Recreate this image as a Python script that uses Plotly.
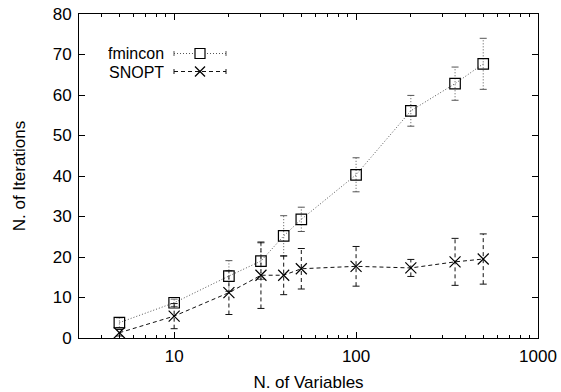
import plotly.graph_objects as go

# ---- data ----
n_vars = [5, 10, 20, 30, 40, 50, 100, 200, 350, 500]
fmincon_iter = [3.8, 8.7, 15.3, 19.0, 25.2, 29.3, 40.3, 56.1, 62.8, 67.7]
fmincon_err = [1.2, 0.9, 3.8, 4.5, 5.0, 3.0, 4.2, 3.8, 4.1, 6.3]
snopt_iter = [1.3, 5.4, 11.2, 15.5, 15.5, 17.1, 17.7, 17.3, 18.8, 19.5]
snopt_err = [0.8, 3.1, 5.4, 8.2, 4.8, 5.0, 4.9, 2.1, 5.8, 6.2]

FONT = "Liberation Sans, Arial, Helvetica, sans-serif"
FS = 17
W, H = 561, 392


def err_segments(xs, ys, es):
    ex, ey = [], []
    for x, y, e in zip(xs, ys, es):
        ex += [x, x, None]
        ey += [y - e, y + e, None]
    return ex, ey


def err_caps(xs, ys, es):
    cx, cy = [], []
    for x, y, e in zip(xs, ys, es):
        cx += [x, x]
        cy += [y - e, y + e]
    return cx, cy


fig = go.Figure()

series = [
    ("fmincon", fmincon_iter, fmincon_err, "#555555", "1px,2px", "square-open", 10.5),
    ("SNOPT", snopt_iter, snopt_err, "#111111", "4px,3px", "x-thin-open", 11),
]

for name, ys, es, col, dash, sym, msz in series:
    ex, ey = err_segments(n_vars, ys, es)
    fig.add_trace(go.Scatter(x=ex, y=ey, mode="lines", showlegend=False,
                             line=dict(color=col, width=1, dash=dash), hoverinfo="skip"))
    cx, cy = err_caps(n_vars, ys, es)
    fig.add_trace(go.Scatter(x=cx, y=cy, mode="markers", showlegend=False,
                             marker=dict(symbol="line-ew-open", size=5, color=col,
                                         line=dict(color=col, width=1)), hoverinfo="skip"))
    fig.add_trace(go.Scatter(x=n_vars, y=ys, mode="lines+markers", name=name, showlegend=False,
                             line=dict(color=col, width=1, dash=dash),
                             marker=dict(symbol=sym, size=msz, color="black",
                                         line=dict(color="black", width=1.2))))

# plot area in reference-image pixels
x0, x1 = 79, 538
y0, y1 = 14, 338
def px(v):
    return (v - x0) / (x1 - x0)
def py(v):
    return (y1 - v) / (y1 - y0)

# ---- custom gnuplot-style key (text left of sample) ----
key_rows = [("fmincon", 53.5, "#555555", "1px,2px", "square"),
            ("SNOPT", 71.5, "#111111", "4px,3px", "x")]
shapes = []
annotations = []
for label, yy, col, dash, mk in key_rows:
    annotations.append(dict(text=label, x=px(165), y=py(yy), xref="paper", yref="paper",
                            xanchor="right", yanchor="middle", showarrow=False,
                            height=16, valign="middle", borderpad=0,
                            font=dict(family=FONT, size=16, color="black")))
    shapes.append(dict(type="line", xref="paper", yref="paper", x0=px(174), x1=px(226),
                       y0=py(yy), y1=py(yy), line=dict(color=col, width=1, dash=dash)))
    for xc in (174, 226):
        shapes.append(dict(type="line", xref="paper", yref="paper", x0=px(xc), x1=px(xc),
                           y0=py(yy - 2.5), y1=py(yy + 2.5), line=dict(color=col, width=1)))
    if mk == "square":
        shapes.append(dict(type="rect", xref="paper", yref="paper", x0=px(195), x1=px(205),
                           y0=py(yy - 5), y1=py(yy + 5), fillcolor="white",
                           line=dict(color="black", width=1.2)))
    else:
        shapes.append(dict(type="line", xref="paper", yref="paper", x0=px(195), x1=px(205),
                           y0=py(yy - 5), y1=py(yy + 5), line=dict(color="black", width=1.2)))
        shapes.append(dict(type="line", xref="paper", yref="paper", x0=px(195), x1=px(205),
                           y0=py(yy + 5), y1=py(yy - 5), line=dict(color="black", width=1.2)))

fig.update_layout(
    width=W, height=H,
    margin=dict(l=x0, r=W - x1, t=y0, b=H - y1, autoexpand=False),
    paper_bgcolor="white", plot_bgcolor="white",
    font=dict(family=FONT, size=FS, color="black"),
    shapes=shapes, annotations=annotations,
    showlegend=False,
)
fig.update_xaxes(
    type="log", range=[0.477, 3], dtick=1, automargin=False,
    tickvals=[10, 100, 1000], ticktext=["10", "100", "1000"],
    showline=True, linecolor="black", linewidth=1, mirror="ticks",
    ticks="inside", ticklen=6, tickcolor="black", showgrid=False, zeroline=False,
    minor=dict(ticks="inside", ticklen=3, tickcolor="black", dtick="D1", showgrid=False),
    title=dict(text="N. of Variables", font=dict(size=FS), standoff=12),
    tickfont=dict(size=FS), ticklabelstandoff=3, ticklabeloverflow="allow",
)
fig.update_yaxes(
    range=[0, 80], dtick=10, automargin=False,
    showline=True, linecolor="black", linewidth=1, mirror="ticks",
    ticks="inside", ticklen=6, tickcolor="black", showgrid=False, zeroline=False,
    title=dict(text="N. of Iterations", font=dict(size=FS), standoff=22),
    tickfont=dict(size=FS), ticklabelstandoff=3, ticklabeloverflow="allow",
)

fig.write_html("out.html", config={"displayModeBar": False},
               post_script="document.body.style.margin='0';document.body.style.overflow='hidden';")
